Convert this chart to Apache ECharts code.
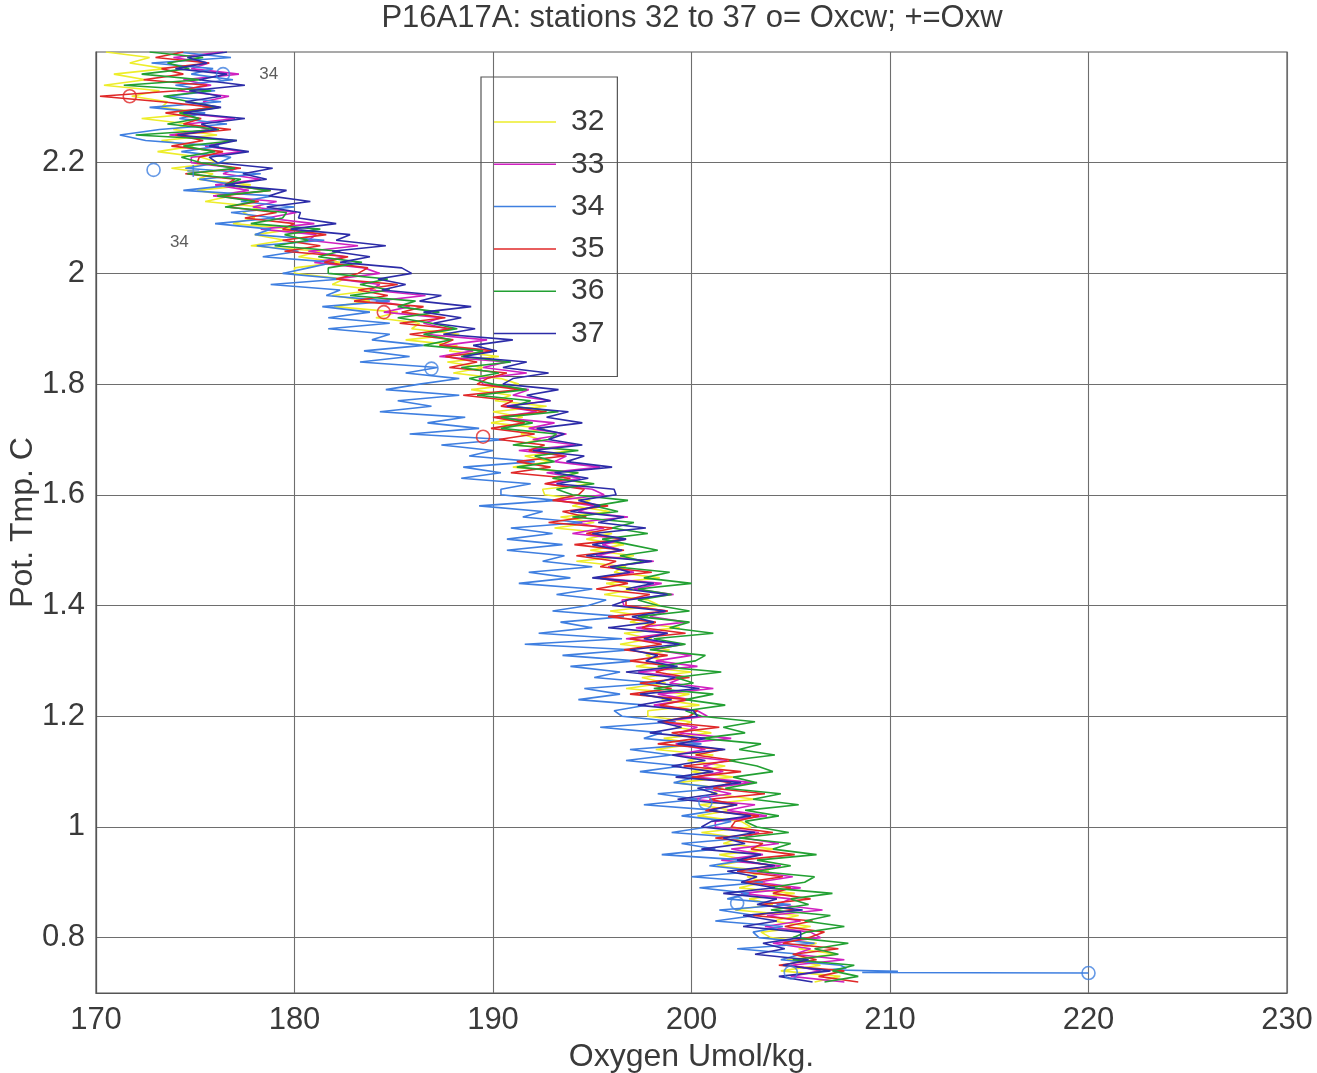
<!DOCTYPE html>
<html>
<head>
<meta charset="utf-8">
<title>P16A17A oxygen vs potential temperature</title>
<script src="https://cdn.jsdelivr.net/npm/echarts@6/dist/echarts.min.js"></script>
<style>
  html, body { margin: 0; padding: 0; background: #ffffff; }
  #chart { width: 1317px; height: 1073px; }
</style>
</head>
<body>
<div id="chart"></div>
<script>
// Potential temperature levels (deg C) shared by the CTD profiles
const potTemp = [
  2.40, 2.39, 2.38, 2.37, 2.36, 2.35, 2.34, 2.33, 2.32, 2.31,
  2.30, 2.29, 2.28, 2.27, 2.26, 2.25, 2.24, 2.23, 2.22, 2.21,
  2.20, 2.19, 2.18, 2.17, 2.16, 2.15, 2.14, 2.13, 2.12, 2.11,
  2.10, 2.09, 2.08, 2.07, 2.06, 2.05, 2.04, 2.03, 2.02, 2.01,
  2.00, 1.99, 1.98, 1.97, 1.96, 1.95, 1.94, 1.93, 1.92, 1.91,
  1.90, 1.89, 1.88, 1.87, 1.86, 1.85, 1.84, 1.83, 1.82, 1.81,
  1.80, 1.79, 1.78, 1.77, 1.76, 1.75, 1.74, 1.73, 1.72, 1.71,
  1.70, 1.69, 1.68, 1.67, 1.66, 1.65, 1.64, 1.63, 1.62, 1.61,
  1.60, 1.59, 1.58, 1.57, 1.56, 1.55, 1.54, 1.53, 1.52, 1.51,
  1.50, 1.49, 1.48, 1.47, 1.46, 1.45, 1.44, 1.43, 1.42, 1.41,
  1.40, 1.39, 1.38, 1.37, 1.36, 1.35, 1.34, 1.33, 1.32, 1.31,
  1.30, 1.29, 1.28, 1.27, 1.26, 1.25, 1.24, 1.23, 1.22, 1.21,
  1.20, 1.19, 1.18, 1.17, 1.16, 1.15, 1.14, 1.13, 1.12, 1.11,
  1.10, 1.09, 1.08, 1.07, 1.06, 1.05, 1.04, 1.03, 1.02, 1.01,
  1.00, 0.99, 0.98, 0.97, 0.96, 0.95, 0.94, 0.93, 0.92, 0.91,
  0.90, 0.89, 0.88, 0.87, 0.86, 0.85, 0.84, 0.83, 0.82, 0.81,
  0.80, 0.79, 0.78, 0.77, 0.76, 0.75, 0.74, 0.73, 0.72
];

// CTD oxygen (umol/kg) at each potTemp level, one array per station
const station32 = [
  170.5, 172.7, 171.7, 173.5, 170.9, 172.5, 170.4, 173.2, 171.8, 173.6,
  173.3, 175.4, 172.3, 174.7, 173.9, 176.1, 173.3, 174.9, 173.1, 175.3,
  176.2, 173.8, 175.9, 175.1, 177.8, 175.1, 176.8, 175.5, 178.3, 177.4,
  178.0, 176.9, 180.0, 178.0, 179.5, 177.8, 181.3, 180.2, 182.3, 180.0,
  180.0, 182.5, 181.9, 184.1, 181.9, 183.8, 182.0, 185.2, 184.1, 186.3,
  185.9, 188.3, 185.6, 188.2, 187.8, 190.3, 187.7, 189.5, 188.0, 190.4,
  191.3, 188.9, 190.9, 190.1, 192.7, 190.0, 191.5, 189.9, 192.6, 191.4,
  192.4, 191.1, 194.0, 191.6, 192.9, 191.0, 194.3, 193.0, 195.0, 192.5,
  192.6, 194.9, 194.0, 195.9, 193.4, 195.1, 193.1, 196.0, 194.7, 196.6,
  194.9, 197.1, 194.2, 196.7, 196.1, 198.4, 195.7, 197.3, 195.6, 197.8,
  198.4, 195.9, 197.8, 196.9, 199.4, 196.6, 198.0, 196.4, 198.9, 197.7,
  198.6, 197.2, 200.0, 197.5, 198.7, 196.7, 199.9, 198.5, 200.4, 197.8,
  197.8, 200.0, 199.2, 201.0, 198.6, 200.2, 198.2, 201.1, 199.8, 201.7,
  200.0, 202.1, 199.2, 201.6, 201.0, 203.2, 200.4, 202.0, 200.3, 202.5,
  203.0, 200.5, 202.5, 201.6, 204.2, 201.4, 202.8, 201.3, 203.9, 202.8,
  203.7, 202.4, 205.2, 202.9, 204.1, 202.2, 205.4, 204.1, 206.0, 203.5,
  204.0, 206.3, 205.4, 207.3, 204.8, 206.5, 204.5, 207.5, 206.2
];

const station33 = [
  176.4, 173.9, 175.7, 174.8, 177.2, 174.4, 175.8, 174.1, 176.7, 175.4,
  175.7, 174.3, 177.0, 174.6, 175.7, 173.7, 176.9, 175.5, 177.4, 174.8,
  174.8, 177.1, 176.4, 178.3, 176.0, 177.7, 175.9, 179.1, 177.9, 180.1,
  178.6, 181.0, 178.3, 181.1, 180.7, 183.2, 180.7, 182.6, 181.0, 183.5,
  184.3, 182.1, 184.3, 183.8, 186.6, 184.1, 185.8, 184.5, 187.4, 186.5,
  187.7, 186.6, 189.7, 187.5, 189.0, 187.3, 190.7, 189.5, 191.7, 189.3,
  189.5, 191.8, 191.0, 192.9, 190.5, 192.2, 190.2, 193.1, 191.8, 193.7,
  192.0, 194.2, 191.3, 193.7, 193.1, 195.4, 192.7, 194.4, 192.7, 195.0,
  195.6, 193.2, 195.1, 194.3, 196.8, 194.1, 195.6, 194.0, 196.7, 195.5,
  196.5, 195.2, 198.1, 195.8, 197.1, 195.2, 198.5, 197.1, 199.1, 196.5,
  196.6, 198.8, 197.9, 199.7, 197.2, 198.8, 196.7, 199.6, 198.1, 200.0,
  198.2, 200.3, 197.3, 199.6, 198.9, 201.1, 198.3, 199.9, 198.1, 200.3,
  200.8, 198.3, 200.3, 199.4, 202.0, 199.2, 200.7, 199.1, 201.8, 200.6,
  201.6, 200.2, 203.1, 200.7, 202.0, 200.0, 203.2, 201.8, 203.8, 201.2,
  201.2, 203.4, 202.6, 204.4, 202.0, 203.6, 201.5, 204.5, 203.1, 205.1,
  203.3, 205.5, 202.5, 205.0, 204.3, 206.6, 203.8, 205.5, 203.7, 206.0,
  206.5, 204.1, 206.0, 205.2, 207.7, 205.0, 206.5, 205.0, 207.7
];

const station34 = [
  174.1, 176.8, 172.8, 175.9, 174.8, 176.9, 174.0, 176.0, 173.6, 176.3,
  172.7, 175.5, 174.2, 176.6, 173.2, 171.2, 172.5, 176.2, 174.3, 176.8,
  176.2, 174.5, 178.3, 175.2, 177.0, 174.4, 178.9, 177.3, 180.0, 176.8,
  179.0, 176.0, 178.8, 178.0, 181.5, 178.1, 180.2, 178.4, 182.0, 180.7,
  179.4, 182.4, 178.8, 182.3, 181.6, 184.8, 181.4, 183.8, 181.7, 184.8,
  181.7, 184.8, 183.9, 186.5, 183.5, 185.8, 183.3, 187.2, 185.6, 188.3,
  186.3, 184.6, 188.3, 185.2, 186.9, 184.3, 188.6, 186.7, 189.3, 185.8,
  190.6, 187.4, 190.0, 188.8, 192.1, 188.5, 190.4, 188.4, 191.9, 190.4,
  190.4, 193.2, 189.3, 192.5, 191.5, 194.5, 190.9, 193.0, 190.7, 193.5,
  190.7, 193.6, 192.5, 195.0, 191.8, 193.9, 191.3, 195.0, 193.2, 195.7,
  194.8, 193.0, 196.6, 193.4, 195.0, 192.3, 196.5, 191.6, 197.0, 193.5,
  197.2, 193.9, 196.4, 195.1, 198.3, 194.6, 196.4, 194.3, 197.7, 196.1,
  196.5, 199.2, 195.4, 198.5, 197.6, 200.5, 196.9, 199.0, 196.7, 199.5,
  197.4, 200.2, 199.1, 201.5, 198.3, 200.3, 197.6, 201.3, 199.5, 202.0,
  200.8, 199.0, 202.7, 199.5, 201.2, 198.5, 202.7, 200.9, 203.4, 200.0,
  203.6, 200.4, 202.9, 201.8, 205.0, 201.4, 203.2, 201.2, 204.6, 203.1,
  203.4, 206.2, 202.3, 205.5, 204.5, 207.5, null, null, null
];
// Bottom of the station 34 cast: [oxygen, potential temperature]
const station34Tail = [[207.8, 0.745], [206.9, 0.742], [210.4, 0.739], [208.6, 0.737], [220.0, 0.736]];

const station35 = [
  174.4, 173.0, 175.7, 173.3, 174.4, 172.4, 175.6, 174.1, 170.2, 173.3,
  176.0, 173.5, 175.3, 174.4, 176.8, 174.0, 175.4, 173.8, 176.4, 175.2,
  175.1, 177.3, 174.5, 177.0, 176.5, 178.8, 176.3, 178.2, 176.6, 179.1,
  177.5, 180.0, 179.4, 181.6, 179.4, 181.3, 179.5, 182.7, 181.5, 183.7,
  183.2, 182.1, 185.2, 183.2, 184.7, 183.0, 186.5, 185.4, 187.6, 185.3,
  188.0, 185.8, 188.0, 187.3, 190.1, 187.6, 189.2, 187.8, 190.7, 189.7,
  189.2, 191.4, 188.5, 191.0, 190.4, 192.7, 190.0, 191.6, 189.9, 192.1,
  190.3, 192.6, 191.8, 193.6, 191.2, 192.9, 190.9, 193.9, 192.6, 194.6,
  194.3, 193.0, 195.8, 193.5, 194.7, 192.8, 196.1, 194.7, 196.7, 194.1,
  196.6, 194.2, 196.2, 195.4, 198.0, 195.3, 196.8, 195.2, 197.9, 196.7,
  196.7, 198.8, 195.8, 198.2, 197.5, 199.7, 196.9, 198.5, 196.6, 198.8,
  196.9, 199.1, 198.2, 199.9, 197.4, 199.0, 196.9, 199.8, 198.4, 200.3,
  199.9, 198.5, 201.4, 199.0, 200.3, 198.3, 201.6, 200.2, 202.2, 199.6,
  202.5, 200.0, 202.0, 201.1, 203.7, 200.9, 202.3, 200.7, 203.4, 202.2,
  202.0, 204.1, 201.2, 203.6, 203.0, 205.2, 202.4, 204.1, 202.3, 204.6,
  202.7, 205.0, 204.1, 206.0, 203.5, 205.2, 203.1, 206.1, 204.7, 206.7,
  205.9, 204.6, 207.4, 205.1, 206.3, 204.4, 207.7, 206.4, 208.4
];

const station36 = [
  172.7, 175.4, 173.6, 174.7, 172.3, 175.3, 171.4, 175.8, 173.4, 174.7,
  176.2, 174.2, 175.2, 173.6, 176.2, 172.0, 177.1, 174.4, 176.0, 174.3,
  175.3, 177.0, 174.6, 177.3, 176.5, 178.8, 176.1, 178.0, 176.5, 179.6,
  179.4, 177.8, 181.3, 179.5, 180.7, 179.0, 182.3, 181.2, 183.4, 181.7,
  181.7, 184.7, 183.3, 184.8, 182.8, 186.1, 185.2, 187.3, 185.2, 186.9,
  188.2, 186.5, 187.9, 186.5, 189.5, 188.4, 190.9, 188.4, 190.3, 188.8,
  190.0, 191.7, 189.2, 191.9, 191.0, 193.3, 190.4, 192.0, 190.4, 193.2,
  192.8, 191.0, 194.3, 192.1, 193.1, 191.2, 194.3, 193.0, 195.1, 193.2,
  194.0, 196.8, 195.1, 196.3, 194.0, 197.1, 196.0, 197.8, 195.5, 196.9,
  198.3, 196.4, 197.6, 196.1, 198.9, 197.6, 200.0, 197.3, 199.0, 197.3,
  198.3, 199.9, 197.3, 199.9, 198.9, 201.1, 198.1, 199.7, 197.9, 200.7,
  200.2, 198.3, 201.5, 199.2, 200.1, 198.1, 201.1, 199.7, 201.7, 199.7,
  200.5, 203.2, 201.6, 202.7, 200.5, 203.5, 202.4, 204.2, 201.9, 203.3,
  204.1, 202.1, 203.3, 201.7, 204.5, 203.1, 205.4, 202.7, 204.4, 202.7,
  203.3, 204.9, 202.4, 205.0, 204.1, 206.3, 203.3, 205.0, 203.3, 206.2,
  205.7, 203.9, 207.1, 205.0, 205.9, 204.0, 207.0, 205.7, 207.7, 205.8,
  205.1, 207.9, 206.2, 207.4, 205.1, 208.2, 207.1, 208.4, 206.7
];

const station37 = [
  176.6, 174.6, 175.6, 174.0, 176.6, 175.2, 177.5, 174.7, 176.3, 174.5,
  176.3, 174.4, 177.5, 175.3, 176.1, 174.1, 177.1, 175.7, 177.7, 175.7,
  176.1, 178.9, 177.4, 178.6, 176.5, 179.6, 178.7, 180.8, 178.6, 180.3,
  180.2, 182.1, 179.8, 182.8, 182.1, 184.6, 181.9, 183.8, 182.3, 185.4,
  185.9, 184.2, 185.6, 184.4, 187.4, 186.3, 188.9, 186.5, 188.4, 187.0,
  189.1, 187.5, 191.0, 189.0, 190.2, 188.5, 191.7, 190.5, 192.8, 191.0,
  190.5, 193.3, 191.7, 192.9, 190.7, 193.8, 192.7, 194.5, 192.2, 193.6,
  192.8, 194.5, 192.0, 194.6, 193.7, 196.0, 193.1, 194.8, 193.2, 196.1,
  196.2, 194.3, 195.4, 193.9, 196.6, 195.3, 197.7, 195.0, 196.7, 195.0,
  196.5, 194.7, 198.0, 195.9, 196.9, 195.0, 198.1, 196.7, 198.8, 196.8,
  196.0, 198.7, 197.0, 198.1, 195.8, 198.8, 197.6, 199.4, 196.9, 198.3,
  197.7, 199.3, 196.7, 199.2, 198.2, 200.4, 197.4, 199.0, 197.3, 200.1,
  200.3, 198.3, 199.5, 197.9, 200.7, 199.3, 201.7, 199.0, 200.7, 199.0,
  201.1, 199.2, 202.5, 200.3, 201.3, 199.3, 202.3, 200.9, 203.0, 201.0,
  200.5, 203.2, 201.6, 202.7, 200.5, 203.5, 202.3, 204.2, 201.8, 203.3,
  202.5, 204.2, 201.6, 204.3, 203.3, 205.6, 202.6, 204.3, 202.6, 205.5,
  205.5, 203.6, 204.7, 203.2, 205.9, 204.6, 207.0, 204.4, 206.1
];

const stationNames = ['32', '33', '34', '35', '36', '37'];

// Bottle oxygen: o = Oxcw, + = Oxw  ([oxygen, potential temperature])
const oxcw34 = [[176.4, 2.360], [172.9, 2.187], [186.9, 1.828], [200.7, 1.044], [202.3, 0.862], [205.0, 0.737], [220.0, 0.736]];
const oxcw35 = [[171.7, 2.320], [184.5, 1.930], [189.5, 1.705]];
const oxw34 = [[174.9, 2.185]];

// Station annotations placed in data coordinates
const stationTags = [[178.7, 2.36, '34'], [174.2, 2.057, '34']];

const xTickStep = 10;
const yTickValues = [0.8, 1.0, 1.2, 1.4, 1.6, 1.8, 2.0, 2.2];

// ---- rendering -----------------------------------------------------------
const FONT = '"Liberation Sans", Arial, Helvetica, sans-serif';
const TEXT = '#3a3a3a';
const lineColors = {
  '32': '#eded2a',
  '33': '#d020c0',
  '34': '#3f7fe0',
  '35': '#e02828',
  '36': '#22a032',
  '37': '#2c2ca8'
};

function profile(values, tail) {
  const pts = [];
  values.forEach((ox, i) => { if (ox !== null) pts.push([ox, potTemp[i]]); });
  return tail ? pts.concat(tail) : pts;
}

const profiles = {
  '32': profile(station32),
  '33': profile(station33),
  '34': profile(station34, station34Tail),
  '35': profile(station35),
  '36': profile(station36),
  '37': profile(station37)
};

const lineSeries = stationNames.map(name => ({
  name: name,
  type: 'line',
  data: profiles[name],
  showSymbol: false,
  symbol: 'none',
  clip: true,
  lineStyle: { color: lineColors[name], width: 1.6 },
  itemStyle: { color: lineColors[name] },
  emphasis: { disabled: true },
  z: 2
}));

function bottleSeries(name, data, color, symbol) {
  return {
    name: name,
    type: 'scatter',
    data: data,
    symbol: symbol,
    symbolSize: symbol === 'circle' ? 13 : 12,
    itemStyle: { color: 'rgba(0,0,0,0)', borderColor: color, borderWidth: 1.6 },
    emphasis: { disabled: true },
    z: 4
  };
}

const plusPath = 'path://M5,0 L5,10 M0,5 L10,5';

const chart = echarts.init(document.getElementById('chart'), null, { renderer: 'canvas' });

chart.setOption({
  animation: false,
  backgroundColor: '#ffffff',
  textStyle: { fontFamily: FONT },
  graphic: [{
    type: 'text',
    x: 692,
    y: 3,
    style: {
      text: 'P16A17A: stations 32 to 37 o= Oxcw; +=Oxw',
      fontSize: 31,
      fontFamily: FONT,
      fill: TEXT,
      align: 'center',
      verticalAlign: 'top'
    }
  }],
  grid: {
    left: 96, right: 30, top: 52, bottom: 80,
    outerBoundsMode: 'none',
    containLabel: false,
    show: true,
    borderColor: '#555555',
    borderWidth: 1.2,
    backgroundColor: 'rgba(0,0,0,0)'
  },
  legend: {
    orient: 'vertical',
    left: 481,
    top: 77,
    data: stationNames,
    icon: 'rect',
    itemWidth: 62,
    itemHeight: 1.5,
    itemGap: 12.3,
    padding: [30, 13, 28, 13],
    borderColor: '#555555',
    borderWidth: 1.2,
    backgroundColor: 'rgba(0,0,0,0)',
    selectedMode: false,
    textStyle: {
      fontSize: 30,
      lineHeight: 28,
      color: TEXT,
      fontFamily: FONT,
      padding: [0, 0, 0, 10]
    },
    z: 1
  },
  xAxis: {
    type: 'value',
    min: 170,
    max: 230,
    interval: xTickStep,
    name: 'Oxygen Umol/kg.',
    nameLocation: 'middle',
    nameGap: 48,
    nameMoveOverlap: false,
    nameTextStyle: { fontSize: 32, color: TEXT, fontFamily: FONT },
    axisLine: { show: true, lineStyle: { color: '#555555', width: 1.2 } },
    axisTick: { show: false },
    axisLabel: { fontSize: 31, color: TEXT, fontFamily: FONT, margin: 12 },
    splitLine: { show: true, lineStyle: { color: '#6e6e6e', width: 1.1 } }
  },
  yAxis: {
    type: 'value',
    min: 0.7,
    max: 2.4,
    name: 'Pot. Tmp. C',
    nameLocation: 'middle',
    nameRotate: 90,
    nameGap: 57,
    nameMoveOverlap: false,
    nameTextStyle: { fontSize: 32, color: TEXT, fontFamily: FONT },
    axisLine: { show: true, lineStyle: { color: '#555555', width: 1.2 } },
    axisTick: { show: false, customValues: yTickValues },
    axisLabel: {
      fontSize: 31, color: TEXT, fontFamily: FONT, margin: 11,
      customValues: yTickValues,
      formatter: v => String(Math.round(v * 10) / 10)
    },
    splitLine: { show: true, lineStyle: { color: '#6e6e6e', width: 1.1 } }
  },
  series: lineSeries.concat([
    bottleSeries('Oxcw 34', oxcw34, lineColors['34'], 'circle'),
    bottleSeries('Oxcw 35', oxcw35, lineColors['35'], 'circle'),
    bottleSeries('Oxw 34', oxw34, lineColors['34'], plusPath),
    {
      name: 'station tags',
      type: 'scatter',
      data: stationTags,
      symbolSize: 0,
      silent: true,
      label: {
        show: true,
        position: 'inside',
        formatter: p => p.value[2],
        fontSize: 17,
        color: '#333333',
        fontFamily: FONT
      },
      z: 5
    }
  ])
});
</script>
</body>
</html>
